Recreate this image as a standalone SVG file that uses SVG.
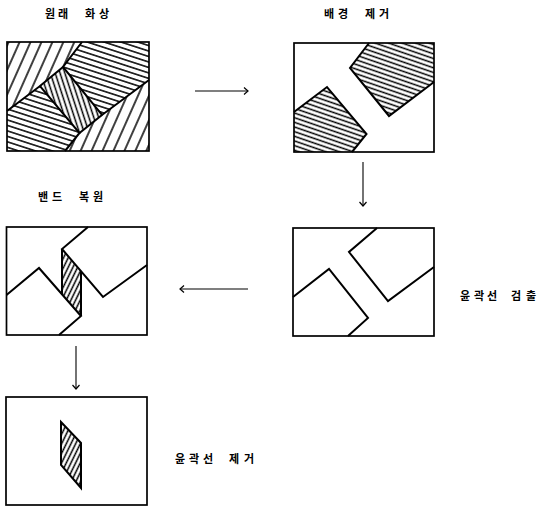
<svg xmlns="http://www.w3.org/2000/svg" width="541" height="509" viewBox="0 0 541 509">
<style>
.box{fill:none;stroke:#000;stroke-width:1.7}
.edge{fill:none;stroke:#000;stroke-width:2;stroke-linejoin:miter}
.thin{fill:none;stroke:#000;stroke-width:1.1}
.lbl{font-family:"Noto Sans CJK KR","Noto Sans",sans-serif;font-size:11px;font-weight:bold;fill:#000}
.hat line{stroke:#000;stroke-width:1.5}
</style>
<defs>
<pattern id="hz1" class="hat" patternUnits="userSpaceOnUse" width="10" height="5.2" patternTransform="rotate(18)"><line x1="-1" y1="2.6" x2="11" y2="2.6"/></pattern>
<pattern id="hz2" class="hat" patternUnits="userSpaceOnUse" width="10" height="4.4" patternTransform="rotate(19)"><line x1="-1" y1="2.2" x2="11" y2="2.2"/></pattern>
<pattern id="st" class="hat" patternUnits="userSpaceOnUse" width="10" height="10" patternTransform="rotate(-66)"><line x1="-1" y1="5" x2="11" y2="5"/></pattern>
<pattern id="bk" class="hat" patternUnits="userSpaceOnUse" width="10" height="4.6" patternTransform="rotate(72)"><line x1="-1" y1="2.3" x2="11" y2="2.3"/></pattern>
<pattern id="bd" class="hat" patternUnits="userSpaceOnUse" width="10" height="4.2" patternTransform="rotate(-64)"><line x1="-1" y1="2.1" x2="11" y2="2.1"/></pattern>
<marker id="ah" markerUnits="userSpaceOnUse" markerWidth="10" markerHeight="10" refX="8" refY="5" orient="auto"><path d="M4,1.5 L8,5 L4,8.5" fill="none" stroke="#000" stroke-width="1.2"/></marker>
</defs>

<g id="title-original"><text class="lbl" x="45 58 71 85 99" y="18">원래 화상</text></g>
<g id="title-bg"><text class="lbl" x="324 338 351 365 379" y="18">배경 제거</text></g>
<g id="title-band"><text class="lbl" x="38 52 65 79 93" y="201">밴드 복원</text></g>
<g id="label-detect"><text class="lbl" x="460 474 487 500 511 526" y="300">윤곽선 검출</text></g>
<g id="label-remove"><text class="lbl" x="175 189 203 216 229 244" y="463">윤곽선 제거</text></g>

<g id="node-original">
<polygon points="7,42 82,42 63,67 40,86 7,111" fill="url(#st)"/>
<polygon points="82,42 149,42 149,80 102,115 63,67" fill="url(#hz1)"/>
<polygon points="7,111 40,86 79.5,133 65,151 7,151" fill="url(#hz1)"/>
<polygon points="40,86 63,67 102,115 79.5,133" fill="url(#bk)"/>
<polygon points="65,151 79.5,133 102,115 149,80 149,151" fill="url(#st)"/>
<polyline class="edge" points="82,42 63,67 102,115 149,80"/>
<polyline class="edge" points="7,111 40,86 79.5,133 65,151"/>
<line class="edge" x1="40" y1="86" x2="63" y2="67"/>
<line class="edge" x1="79.5" y1="133" x2="102" y2="115"/>
<rect class="box" x="7" y="42" width="142" height="109"/>
</g>

<g id="node-bg-removed">
<polygon points="294,112 327,87 366.5,134 352,152 294,152" fill="url(#hz2)"/>
<polygon points="369,43 350,68 389,116 434,82 434,43" fill="url(#hz2)"/>
<polyline class="edge" points="294,112 327,87 366.5,134 352,152"/>
<polyline class="edge" points="369,43 350,68 389,116 434,82"/>
<rect class="box" x="294" y="43" width="140" height="109"/>
</g>

<g id="node-contour">
<polyline class="edge" points="293,297 329,269 368,318 348,336"/>
<polyline class="edge" points="377,228 349,252 388,301 434,267"/>
<rect class="box" x="293" y="228" width="141" height="108"/>
</g>

<g id="node-band">
<polygon points="62,249 81,271 81,316 62,294" fill="url(#bd)"/>
<polyline class="edge" points="88,227 62,249 103,297 147,265"/>
<polyline class="edge" points="6.5,295 39,268 81,316 59,335"/>
<line class="edge" x1="62" y1="249" x2="62" y2="294"/>
<line class="edge" x1="81" y1="271" x2="81" y2="316"/>
<rect class="box" x="6.5" y="227" width="140.5" height="108"/>
</g>

<g id="node-removed">
<polygon points="61,422 81,443 81,488 61,465" fill="url(#bd)"/>
<polygon class="edge" points="61,422 81,443 81,488 61,465"/>
<rect class="box" x="6" y="397" width="141" height="108"/>
</g>

<g id="connectors">
<line class="thin" x1="195" y1="91" x2="248" y2="91" marker-end="url(#ah)"/>
<line class="thin" x1="363" y1="162" x2="363" y2="206" marker-end="url(#ah)"/>
<line class="thin" x1="248" y1="289" x2="180" y2="289" marker-end="url(#ah)"/>
<line class="thin" x1="76" y1="346" x2="76" y2="389" marker-end="url(#ah)"/>
</g>
</svg>
